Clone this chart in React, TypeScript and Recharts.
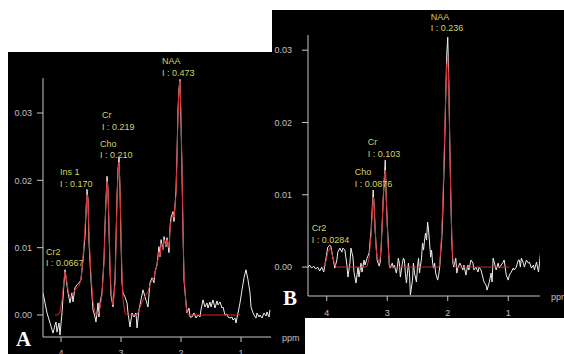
import { LineChart, Line, XAxis, YAxis, ReferenceDot } from 'recharts';

// panel A: chemical shift (ppm), measured spectrum and fitted model
const aPpm = [
  4.300, 4.233, 4.183, 4.133, 4.100, 4.083, 4.067, 4.033, 4.017, 3.983,
  3.950, 3.933, 3.917, 3.883, 3.850, 3.817, 3.800, 3.767, 3.733, 3.700,
  3.667, 3.633, 3.600, 3.567, 3.550, 3.533, 3.500, 3.467, 3.433, 3.417,
  3.383, 3.367, 3.350, 3.317, 3.283, 3.267, 3.250, 3.233, 3.217, 3.200,
  3.183, 3.167, 3.133, 3.100, 3.083, 3.067, 3.050, 3.033, 3.017, 3.000,
  2.983, 2.967, 2.933, 2.900, 2.883, 2.850, 2.817, 2.783, 2.750, 2.733,
  2.700, 2.667, 2.633, 2.600, 2.550, 2.517, 2.483, 2.450, 2.433, 2.400,
  2.367, 2.350, 2.333, 2.300, 2.283, 2.250, 2.233, 2.200, 2.183, 2.167,
  2.133, 2.117, 2.083, 2.067, 2.050, 2.033, 2.017, 2.000, 1.983, 1.967,
  1.950, 1.917, 1.900, 1.867, 1.850, 1.817, 1.783, 1.750, 1.717, 1.683,
  1.667, 1.633, 1.600, 1.567, 1.550, 1.517, 1.500, 1.467, 1.433, 1.400,
  1.383, 1.350, 1.317, 1.300, 1.267, 1.233, 1.217, 1.183, 1.150, 1.133,
  1.100, 1.083, 1.050, 1.017, 0.983, 0.950, 0.917, 0.883, 0.850, 0.833,
  0.800, 0.783, 0.750, 0.733, 0.700, 0.683, 0.650, 0.617, 0.583, 0.567,
  0.533, 0.517,
];
const aRaw = [
  0.00328, 0.0003, -0.00119, -0.00269, -0.00149, -0.00104, -0.00254, -0.00119, -0.00299, 0.0003,
  0.00478, 0.00672, 0.00552, 0.00328, 0.00179, 0.00328, 0.00194, 0.00403, 0.00448, 0.00478,
  0.00522, 0.00821, 0.01164, 0.01866, 0.01716, 0.01075, 0.00522, 0.00075, -0.0003, -0.00104,
  0.00179, -0.0003, 0.00179, 0.00328, 0.00821, 0.01313, 0.01716, 0.0206, 0.01866, 0.01269,
  0.00672, 0.00299, 0.00119, 0.00522, 0.01119, 0.01716, 0.02164, 0.02343, 0.01866, 0.01119,
  0.00478, 0.00328, 0.00269, 0.00179, 0.0003, -0.00179, 0.0003, -0.0003, 0.0003, -0.00194,
  0.00075, 0.00224, 0.00373, 0.00269, 0.00119, 0.00478, 0.00552, 0.00478, 0.00642, 0.00746,
  0.01015, 0.00866, 0.01119, 0.0097, 0.01164, 0.01015, 0.01149, 0.00925, 0.01313, 0.01448,
  0.01537, 0.01388, 0.01866, 0.02358, 0.0306, 0.03358, 0.035, 0.02866, 0.02119, 0.01269,
  0.00522, 0.00179, 0.0003, 0.00104, -0.0003, -0.0003, 0.0003, -0.00045, 0, -0.0003,
  0.00075, 0.00224, 0.00119, 0.00179, 0.00104, 0.00194, 0.00119, 0.00224, 0.00104, 0.00209,
  0.00149, 0.00194, 0.00104, 0.00119, 0, 0.00015, -0.0003, -0.00045, -0.0003, -0.00075,
  -0.00045, -0.00119, 0.0003, 0.00179, 0.00373, 0.00552, 0.00672, 0.00522, 0.00328, 0.00119,
  0.0003, 0, -0.00045, 0.0003, -0.0003, 0, -0.00045, 0.0003, -0.00015, 0.00045,
  -0.0003, 0.00075,
];
const aFit = [
  null, null, null, null, 0, 0, 0, 0.00015, 0.00045, 0.00224,
  0.00522, 0.00642, 0.00582, 0.00373, 0.00254, 0.00284, 0.00313, 0.00373, 0.00403, 0.00433,
  0.00522, 0.00851, 0.01299, 0.01791, 0.01716, 0.01194, 0.00597, 0.00194, 0.00045, 0,
  0.00015, 0.00045, 0.00104, 0.00299, 0.00791, 0.01269, 0.01716, 0.01985, 0.01866, 0.01343,
  0.00746, 0.00373, 0.00149, 0.00448, 0.01045, 0.01716, 0.02134, 0.02269, 0.0194, 0.01194,
  0.00597, 0.00224, 0.0003, 0, 0, 0, 0, 0, 0, 0,
  0.00075, 0.00149, 0.00224, 0.00284, 0.00343, 0.00448, 0.00522, 0.00552, 0.00642, 0.00731,
  0.0094, 0.00881, 0.0106, 0.0097, 0.01119, 0.0103, 0.01119, 0.01, 0.01269, 0.01388,
  0.01493, 0.01448, 0.01791, 0.02313, 0.02985, 0.03358, 0.03478, 0.02985, 0.02164, 0.01299,
  0.00597, 0.00149, 0.00045, 0, 0, 0, 0, 0, 0, 0,
  0, 0, 0, 0, 0, 0, 0, 0, 0, 0,
  0, 0, 0, 0, 0, 0, 0, 0, 0, 0,
  0, 0, 0, 0, null, null, null, null, null, null,
  null, null, null, null, null, null, null, null, null, null,
  null, null,
];

// panel B
const bPpm = [
  4.317, 4.283, 4.250, 4.217, 4.183, 4.150, 4.117, 4.083, 4.050, 4.017,
  3.983, 3.950, 3.933, 3.900, 3.867, 3.833, 3.817, 3.783, 3.750, 3.733,
  3.700, 3.667, 3.650, 3.617, 3.600, 3.567, 3.550, 3.517, 3.483, 3.467,
  3.433, 3.417, 3.383, 3.367, 3.333, 3.300, 3.267, 3.250, 3.233, 3.217,
  3.200, 3.183, 3.167, 3.133, 3.117, 3.100, 3.083, 3.067, 3.050, 3.033,
  3.017, 3.000, 2.983, 2.967, 2.950, 2.917, 2.900, 2.883, 2.850, 2.833,
  2.817, 2.800, 2.783, 2.750, 2.733, 2.717, 2.700, 2.683, 2.650, 2.633,
  2.617, 2.583, 2.567, 2.550, 2.517, 2.500, 2.483, 2.467, 2.433, 2.417,
  2.400, 2.383, 2.367, 2.350, 2.333, 2.317, 2.300, 2.283, 2.267, 2.250,
  2.233, 2.217, 2.200, 2.167, 2.150, 2.133, 2.117, 2.100, 2.083, 2.067,
  2.050, 2.033, 2.017, 2.000, 1.983, 1.967, 1.950, 1.933, 1.917, 1.900,
  1.867, 1.850, 1.833, 1.800, 1.783, 1.750, 1.733, 1.700, 1.667, 1.650,
  1.617, 1.583, 1.567, 1.533, 1.500, 1.483, 1.450, 1.417, 1.400, 1.367,
  1.350, 1.317, 1.283, 1.267, 1.250, 1.233, 1.200, 1.167, 1.150, 1.117,
  1.083, 1.067, 1.033, 1.000, 0.983, 0.950, 0.917, 0.900, 0.867, 0.833,
  0.817, 0.800, 0.783, 0.750, 0.733, 0.700, 0.667, 0.650, 0.617, 0.583,
  0.567, 0.533, 0.500, 0.483, 0.467,
];
const bRaw = [
  -0.00014, 0.00028, -0.00014, 0.00014, -0.00028, 0, -0.00055, 0, -0.00069, 0.00097,
  0.00277, 0.00304, 0.0029, 0.00138, -0.00014, 0.00097, 0.00207, 0.00263, 0.00207, 0.00263,
  0.00235, 0.00028, -0.00138, 0.00055, 0.00263, 0.00138, -0.00069, -0.00221, 0, -0.00138,
  0.00055, -0.00069, 0.00097, 0.00028, 0.00124, 0.00194, 0.00512, 0.00788, 0.01065, 0.00857,
  0.00512, 0.00277, 0.00097, 0.00014, 0.00069, 0.00277, 0.00608, 0.00926, 0.01203, 0.01479,
  0.00968, 0.00608, 0.00332, 0.00028, -0.00014, 0.00055, -0.00014, 0.00028, -0.00083, 0,
  0.00124, 0.00055, -0.00138, 0.00055, 0.00124, 0.00097, -0.00083, -0.00221, 0.00055, -0.00083,
  -0.00387, -0.0018, 0.00055, -0.00083, -0.00207, 0, 0.00124, -0.00083, 0.00124, 0.00332,
  0.00235, 0.00373, 0.0047, 0.00373, 0.00622, 0.00512, 0.00332, 0.00138, 0.00235, 0.00055,
  -0.00014, 0.00055, -0.00083, -0.0018, -0.00111, 0, 0.00194, 0.00373, 0.00719, 0.01203,
  0.01756, 0.02378, 0.02931, 0.0318, 0.02585, 0.01756, 0.00995, 0.00373, 0.00069, 0,
  0.00124, -0.00083, -0.00014, 0.00055, 0.00028, -0.00041, 0.00028, -0.00111, 0.00028, -0.00041,
  0.00097, 0.00055, -0.00041, 0, -0.00069, 0, -0.00041, -0.00152, -0.00207, -0.00249,
  -0.00318, -0.00221, -0.00083, -0.00207, 0.00124, 0.00069, -0.00041, 0.00055, -0.00014, 0.00028,
  0.00069, 0.00097, -0.00111, -0.0018, -0.00111, -0.00069, -0.00014, -0.00041, 0, 0.00097,
  0.00097, 0, 0.00124, 0.00055, 0, 0.00097, 0.00055, 0.00069, -0.00014, 0.00028,
  -0.00041, 0.00069, -0.00069, 0.00055, 0.00194,
];
const bFit = [
  null, null, null, null, null, null, null, null, 0, 0.00069,
  0.00207, 0.00263, 0.00249, 0.00138, 0.00028, 0, 0, 0, 0, 0,
  0, 0, 0, 0, 0, 0, 0, 0, 0, 0,
  0, 0, 0, 0, 0.00014, 0.00124, 0.00442, 0.00719, 0.00968, 0.00857,
  0.00539, 0.00263, 0.00124, 0.00069, 0.00124, 0.00304, 0.00622, 0.00954, 0.0123, 0.01341,
  0.00995, 0.00581, 0.00263, 0.00069, 0, 0, 0, 0, 0, 0,
  0, 0, 0, 0, 0, 0, 0, 0, 0, 0,
  0, 0, 0, 0, 0, 0, 0, 0, 0, 0,
  0, 0, 0, 0, 0, 0, 0, 0, 0, 0,
  0, 0, 0, 0, 0, 0.00028, 0.00235, 0.00484, 0.00857, 0.01341,
  0.01894, 0.02378, 0.02793, 0.02903, 0.02516, 0.01756, 0.00995, 0.00442, 0.00124, 0.00028,
  0, 0, 0, 0, 0, 0, 0, 0, 0, 0,
  0, 0, 0, 0, 0, 0, 0, 0, 0, 0,
  0, 0, 0, 0, 0, 0, 0, 0, 0, 0,
  0, 0, 0, 0, 0, null, null, null, null, null,
  null, null, null, null, null, null, null, null, null, null,
  null, null, null, null, null,
];

// peak annotations: name, integral, and where the tag sits (ppm, signal)
const aPeaks = [
  { name: 'NAA', area: '0.473', ppm: 2.317, at: 0.0377 },
  { name: 'Cr', area: '0.219', ppm: 3.317, at: 0.0297 },
  { name: 'Cho', area: '0.210', ppm: 3.35, at: 0.0254 },
  { name: 'Ins 1', area: '0.170', ppm: 4.017, at: 0.0212 },
  { name: 'Cr2', area: '0.0667', ppm: 4.25, at: 0.0094 },
];
const bPeaks = [
  { name: 'NAA', area: '0.236', ppm: 2.281, at: 0.0346 },
  { name: 'Cr', area: '0.103', ppm: 3.322, at: 0.0173 },
  { name: 'Cho', area: '0.0876', ppm: 3.537, at: 0.0131 },
  { name: 'Cr2', area: '0.0284', ppm: 4.248, at: 0.0054 },
];

const ppmTicks = [4, 3, 2, 1];
const signalTicks = [0, 0.01, 0.02, 0.03];

const FONT = '"Liberation Sans", Arial, sans-serif';
const AXIS = '#c6c6c6';
const TICK = '#c0c0c0';
const TAG = '#d2d266';

const PeakTag = (props: any) => {
  const { viewBox, name, area } = props;
  const x = viewBox.x + (viewBox.width || 0) / 2;
  const y = viewBox.y + (viewBox.height || 0) / 2;
  return (
    <text fill={TAG} fontSize={9} fontFamily={FONT}>
      <tspan x={x} y={y + 3}>{name}</tspan>
      <tspan x={x} y={y + 14.5}>{`I : ${area}`}</tspan>
    </text>
  );
};

const Unit = (props: any) => {
  const { viewBox } = props;
  return (
    <text x={viewBox.x + viewBox.width + 11} y={viewBox.y + 4} fill={TICK} fontSize={9} fontFamily={FONT}>
      ppm
    </text>
  );
};

const Spectrum = ({ ppm, raw, fit, peaks, width, height, right, top, yWidth, xHeight, xDomain, yDomain, yGap, xGap }: any) => {
  const rows = ppm.map((p: number, i: number) => ({ ppm: p, raw: raw[i], fit: fit[i] }));
  return (
    <LineChart width={width} height={height} data={rows} margin={{ top, right, bottom: 0, left: 0 }}>
      <XAxis
        type="number"
        dataKey="ppm"
        domain={xDomain}
        reversed
        allowDataOverflow
        ticks={ppmTicks}
        height={xHeight}
        tickSize={5}
        tickMargin={xGap}
        stroke={AXIS}
        tick={{ fill: TICK, fontSize: 9, fontFamily: FONT }}
        label={<Unit />}
      />
      <YAxis
        type="number"
        domain={yDomain}
        allowDataOverflow
        ticks={signalTicks}
        width={yWidth}
        tickSize={6}
        tickMargin={yGap}
        stroke={AXIS}
        tickFormatter={(v: number) => v.toFixed(2)}
        tick={{ fill: TICK, fontSize: 9, fontFamily: FONT }}
      />
      <Line type="linear" dataKey="raw" stroke="#eeeeee" strokeWidth={1} dot={false} isAnimationActive={false} />
      <Line type="linear" dataKey="fit" stroke="#d22c2c" strokeWidth={1} dot={false} isAnimationActive={false} />
      {peaks.map((p: any) => (
        <ReferenceDot
          key={p.name}
          x={p.ppm}
          y={p.at}
          r={0}
          fill="none"
          stroke="none"
          ifOverflow="visible"
          label={<PeakTag name={p.name} area={p.area} />}
        />
      ))}
    </LineChart>
  );
};

const App = () => {
  return (
    <div style={{ position: 'absolute', left: 0, top: 0, width: 564, height: 354, background: '#fff', overflow: 'hidden' }}>
      <div style={{ position: 'absolute', left: 8, top: 52, width: 297, height: 302, background: '#000' }}>
        <Spectrum
          ppm={aPpm} raw={aRaw} fit={aFit} peaks={aPeaks}
          width={297} height={302} top={26} right={34} yWidth={35} xHeight={17}
          xDomain={[0.5, 4.3]} yDomain={[-0.00327, 0.0352]} yGap={5} xGap={8}
        />
      </div>
      <div style={{ position: 'absolute', left: 272, top: 10, width: 292, height: 308, background: '#000' }}>
        <Spectrum
          ppm={bPpm} raw={bRaw} fit={bFit} peaks={bPeaks}
          width={292} height={308} top={25} right={24} yWidth={36} xHeight={22}
          xDomain={[0.475, 4.31]} yDomain={[-0.004, 0.0321]} yGap={10} xGap={9}
        />
      </div>
      <svg width={564} height={354} style={{ position: 'absolute', left: 0, top: 0, pointerEvents: 'none' }}>
        <text x={16} y={346} fill="#fff" fontSize={21} fontWeight="bold" fontFamily='"Liberation Serif", "Times New Roman", serif'>A</text>
        <text x={283} y={305} fill="#fff" fontSize={21} fontWeight="bold" fontFamily='"Liberation Serif", "Times New Roman", serif'>B</text>
      </svg>
    </div>
  );
};

export default App;
